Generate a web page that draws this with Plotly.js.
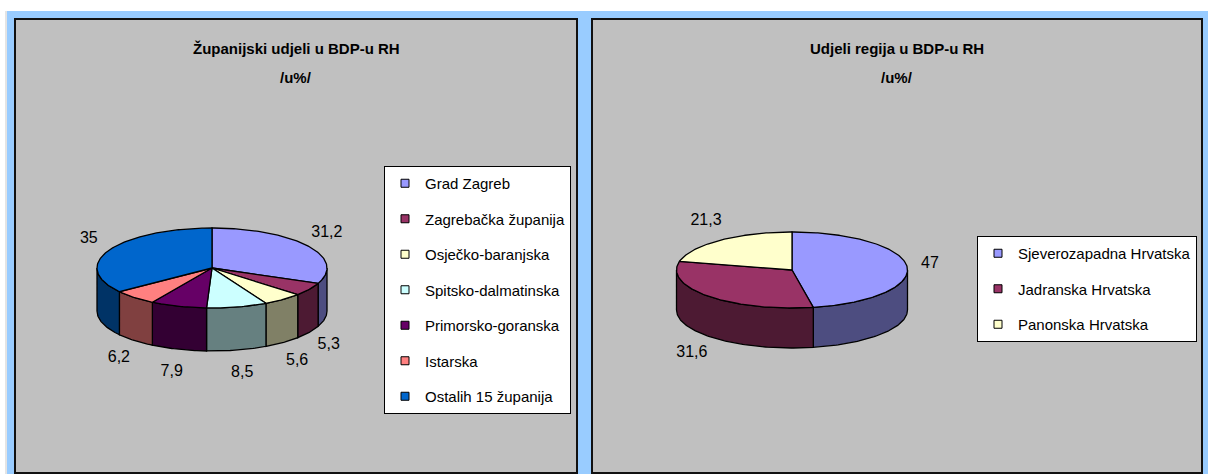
<!DOCTYPE html>
<html>
<head>
<meta charset="utf-8">
<script src="https://cdn.plot.ly/plotly-3.0.1.min.js"></script>
<style>html,body{margin:0;padding:0;background:#fff;}#chart{width:1208px;height:474px;}</style>
</head>
<body>
<div id="chart"></div>
<script>
// ---- data ----
const leftTitle = 'Županijski udjeli u BDP-u RH';
const leftSubtitle = '/u%/';
const leftCategories = ['Grad Zagreb', 'Zagrebačka županija', 'Osječko-baranjska', 'Spitsko-dalmatinska', 'Primorsko-goranska', 'Istarska', 'Ostalih 15 županija'];
const leftValues = [31.2, 5.3, 5.6, 8.5, 7.9, 6.2, 35];

const rightTitle = 'Udjeli regija u BDP-u RH';
const rightSubtitle = '/u%/';
const rightCategories = ['Sjeverozapadna Hrvatska', 'Jadranska Hrvatska', 'Panonska Hrvatska'];
const rightValues = [47, 31.6, 21.3];

// ---- styles ----
const leftColors = ['#9999FF', '#993366', '#FFFFCC', '#CCFFFF', '#660066', '#FF8080', '#0066CC'];
const rightColors = ['#9999FF', '#993366', '#FFFFCC'];
const FONT = 'Liberation Sans, Arial, sans-serif';

function darken(hex) {
  const n = parseInt(hex.slice(1), 16);
  const r = (n >> 16) & 255, g = (n >> 8) & 255, b = n & 255;
  return 'rgb(' + Math.round(r / 2) + ',' + Math.round(g / 2) + ',' + Math.round(b / 2) + ')';
}

// geometry of each 3D pie in pixel-units of the full-page axes
const leftGeom = {cx: 212, cy: 268, rx: 115, ry: 40, depth: 43, legend: 'legend'};
const rightGeom = {cx: 792, cy: 270, rx: 115.5, ry: 38, depth: 40, legend: 'legend2'};

function pt(g, th, dy) {
  return [g.cx + g.rx * Math.sin(th), g.cy - g.ry * Math.cos(th) + (dy || 0)];
}
function arc(g, a, b, dy) {
  const out = [];
  const n = Math.max(2, Math.ceil(Math.abs(b - a) / (Math.PI / 180)));
  for (let i = 0; i <= n; i++) out.push(pt(g, a + (b - a) * i / n, dy));
  return out;
}

function pieTraces(g, cats, vals, colors) {
  const total = vals.reduce((s, v) => s + v, 0);
  const walls = [], tops = [], legendItems = [];
  const lx = [], ly = [], lt = [];
  let acc = 0;
  vals.forEach((v, i) => {
    const a = acc / total * 2 * Math.PI;
    acc += v;
    const b = acc / total * 2 * Math.PI;
    // front wall (visible part between 90° and 270°)
    const wa = Math.max(a, Math.PI / 2), wb = Math.min(b, 3 * Math.PI / 2);
    if (wb > wa) {
      const top = arc(g, wa, wb, 0);
      const bot = arc(g, wb, wa, g.depth);
      const poly = top.concat(bot);
      poly.push(poly[0]);
      walls.push({
        type: 'scatter', mode: 'lines', x: poly.map(p => p[0]), y: poly.map(p => p[1]),
        fill: 'toself', fillcolor: darken(colors[i]), line: {color: '#000', width: 1.3},
        showlegend: false, hoverinfo: 'skip'
      });
    }
    // top face
    const pts = [[g.cx, g.cy]].concat(arc(g, a, b, 0));
    pts.push([g.cx, g.cy]);
    tops.push({
      type: 'scatter', mode: 'lines', x: pts.map(p => p[0]), y: pts.map(p => p[1]),
      fill: 'toself', fillcolor: colors[i], line: {color: '#000', width: 1.3},
      showlegend: false, hoverinfo: 'skip'
    });
    // legend entry
    legendItems.push({
      type: 'scatter', mode: 'markers', x: [null], y: [null], name: cats[i],
      legend: g.legend, legendgroup: g.legend + i,
      marker: {symbol: 'square', size: 8, color: colors[i], line: {color: '#000', width: 1}},
      hoverinfo: 'skip'
    });
    // label
    const m = (a + b) / 2;
    const s = Math.sin(m), c = Math.cos(m);
    lx.push(g.cx + (g.rx + 23) * s);
    ly.push(g.cy - (g.ry + 24) * c + (c < 0 ? g.depth : 0));
    lt.push(String(v).replace('.', ','));
  });
  const labels = {
    type: 'scatter', mode: 'text', x: lx, y: ly, text: lt, textposition: 'middle center',
    textfont: {family: FONT, size: 16, color: '#000'}, showlegend: false, hoverinfo: 'skip'
  };
  return walls.concat(tops, [labels], legendItems);
}

const traces = pieTraces(leftGeom, leftCategories, leftValues, leftColors)
  .concat(pieTraces(rightGeom, rightCategories, rightValues, rightColors));

function titleAnn(text, x, y) {
  return {text: '<b>' + text + '</b>', x: x, y: y, xref: 'x', yref: 'y', showarrow: false,
    xanchor: 'center', yanchor: 'middle', font: {family: FONT, size: 15, color: '#000'}};
}

const legendBase = {
  bgcolor: '#FFFFFF', bordercolor: '#000', borderwidth: 1,
  font: {family: FONT, size: 15, color: '#000'},
  xanchor: 'right', yanchor: 'top', tracegroupgap: 13,
  itemclick: false, itemdoubleclick: false
};

const layout = {
  width: 1208, height: 474,
  margin: {l: 0, r: 0, t: 0, b: 0},
  paper_bgcolor: '#FFFFFF', plot_bgcolor: '#FFFFFF',
  xaxis: {range: [0, 1208], visible: false, fixedrange: true},
  yaxis: {range: [474, 0], visible: false, fixedrange: true},
  showlegend: true,
  legend: Object.assign({}, legendBase, {x: 571 / 1208, y: 1 - 166 / 474}),
  legend2: Object.assign({}, legendBase, {x: 1197 / 1208, y: 1 - 236 / 474}),
  shapes: [
    {type: 'rect', xref: 'x', yref: 'y', x0: 5, x1: 7, y0: 11, y1: 474, fillcolor: '#E4E4E4', line: {width: 0}, layer: 'below'},
    {type: 'rect', xref: 'x', yref: 'y', x0: 7, x1: 1208, y0: 11, y1: 474, fillcolor: '#99CCFF', line: {width: 0}, layer: 'below'},
    {type: 'rect', xref: 'x', yref: 'y', x0: 15, x1: 577, y0: 19, y1: 473, fillcolor: '#C0C0C0', line: {color: '#111', width: 2}, layer: 'below'},
    {type: 'rect', xref: 'x', yref: 'y', x0: 592, x1: 1202, y0: 19, y1: 473, fillcolor: '#C0C0C0', line: {color: '#111', width: 2}, layer: 'below'}
  ],
  annotations: [
    titleAnn(leftTitle, 296, 48), titleAnn(leftSubtitle, 296, 77),
    titleAnn(rightTitle, 897, 48), titleAnn(rightSubtitle, 897, 77)
  ]
};

Plotly.newPlot('chart', traces, layout, {staticPlot: true, displayModeBar: false});
</script>
</body>
</html>
